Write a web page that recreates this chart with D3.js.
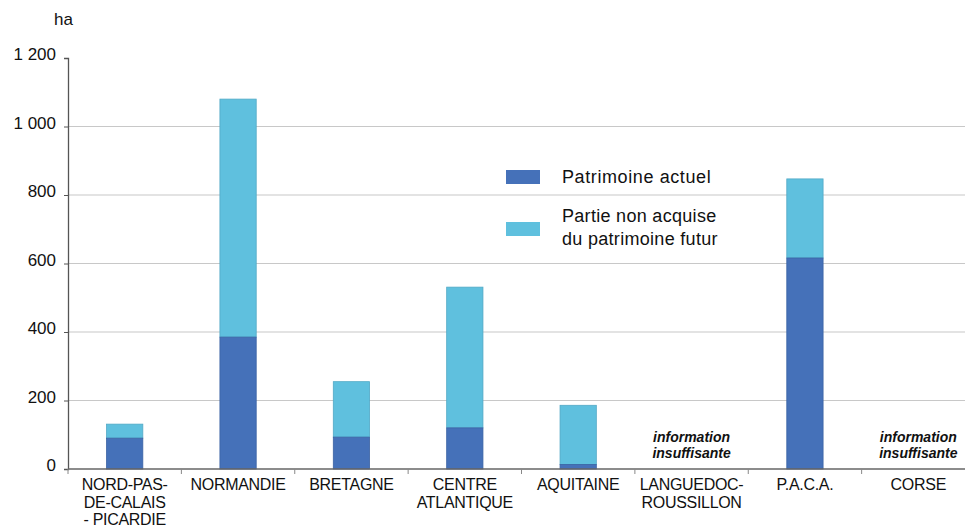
<!DOCTYPE html>
<html>
<head>
<meta charset="utf-8">
<script src="https://cdn.jsdelivr.net/npm/d3@7"></script>
<style>
  body { margin: 0; background: #fff; }
  text { font-family: "Liberation Sans", Arial, sans-serif; fill: #111; }
</style>
</head>
<body>
<svg id="chart" width="965" height="529"></svg>
<script>
// regions (x axis), one label line per array entry
var regions = [
    ["NORD-PAS-", "DE-CALAIS", "- PICARDIE"],
    ["NORMANDIE"],
    ["BRETAGNE"],
    ["CENTRE", "ATLANTIQUE"],
    ["AQUITAINE"],
    ["LANGUEDOC-", "ROUSSILLON"],
    ["P.A.C.A."],
    ["CORSE"]
];
// ha, null = information insuffisante
var actuel = [90, 385, 93, 120, 13, null, 616, null];
var nonAcquise = [41, 695, 162, 411, 173, null, 231, null];
var yTicks = [0, 200, 400, 600, 800, 1000, 1200];
var seriesNames = ["Patrimoine actuel", "Partie non acquise du patrimoine futur"];

var svg = d3.select("#chart");
var mLeft = 68, mRight = 975, mTop = 58, mBottom = 469;

var x = d3.scaleBand()
    .domain(d3.range(regions.length))
    .range([mLeft, mRight])
    .paddingInner(0.68)
    .paddingOuter(0.34);

var y = d3.scaleLinear()
    .domain([0, 1200])
    .range([mBottom, mTop]);

var fr = d3.formatLocale({decimal: ",", thousands: "\u00a0", grouping: [3], currency: ["", " €"]});
var fmt = fr.format(",d");

// gridlines
svg.append("g")
    .selectAll("line")
    .data(yTicks.filter(function(d) { return d > 0 && d < 1200; }))
    .enter().append("line")
    .attr("x1", mLeft)
    .attr("x2", 965)
    .attr("y1", function(d) { return y(d); })
    .attr("y2", function(d) { return y(d); })
    .attr("stroke", "#c8c8c8")
    .attr("stroke-width", 1.2);

// y axis
var yAxis = svg.append("g")
    .attr("transform", "translate(" + mLeft + ",0)")
    .call(d3.axisLeft(y).tickValues(yTicks).tickFormat(fmt).tickSize(4).tickPadding(8));
yAxis.select(".domain").attr("stroke", "#555").attr("stroke-width", 1.3);
yAxis.selectAll(".tick line").attr("stroke", "#555");
yAxis.selectAll(".tick text")
    .style("font-size", "17px")
    .style("font-family", "Liberation Sans, Arial, sans-serif")
    .attr("fill", "#111")
    .attr("dy", "0.1em");

svg.append("text")
    .attr("x", 54)
    .attr("y", 25)
    .style("font-size", "17px")
    .text("ha");

// stacked bars
var colors = ["#4571b9", "#5fc0de"];
var stack = regions.map(function(r, i) {
    return {i: i, a: actuel[i], b: nonAcquise[i]};
}).filter(function(d) { return d.a !== null; });

var bars = svg.append("g");
bars.selectAll("rect.light")
    .data(stack)
    .enter().append("rect")
    .attr("class", "light")
    .attr("x", function(d) { return x(d.i); })
    .attr("width", x.bandwidth())
    .attr("y", function(d) { return y(d.a + d.b); })
    .attr("height", function(d) { return y(d.a) - y(d.a + d.b); })
    .attr("fill", colors[1])
    .attr("stroke", "#52a9c6")
    .attr("stroke-width", 0.8);
bars.selectAll("rect.dark")
    .data(stack)
    .enter().append("rect")
    .attr("class", "dark")
    .attr("x", function(d) { return x(d.i); })
    .attr("width", x.bandwidth())
    .attr("y", function(d) { return y(d.a); })
    .attr("height", function(d) { return y(0) - y(d.a); })
    .attr("fill", colors[0])
    .attr("stroke", "#3b63a4")
    .attr("stroke-width", 0.8);

// x axis line and ticks at band boundaries
svg.append("line")
    .attr("x1", mLeft).attr("x2", 965)
    .attr("y1", mBottom).attr("y2", mBottom)
    .attr("stroke", "#666").attr("stroke-width", 1.5);
var step = x.step();
svg.append("g")
    .selectAll("line")
    .data(d3.range(regions.length + 1))
    .enter().append("line")
    .attr("x1", function(d) { return mLeft + d * step; })
    .attr("x2", function(d) { return mLeft + d * step; })
    .attr("y1", mBottom)
    .attr("y2", mBottom + 5)
    .attr("stroke", "#888");

// category labels
var cat = svg.append("g");
regions.forEach(function(lines, i) {
    var cx = x(i) + x.bandwidth() / 2;
    var t = cat.append("text")
        .attr("x", cx)
        .attr("y", 490)
        .attr("text-anchor", "middle")
        .style("font-size", "16px")
        .style("letter-spacing", "-0.3px");
    lines.forEach(function(l, k) {
        t.append("tspan")
            .attr("x", cx)
            .attr("dy", k == 0 ? 0 : 17.5)
            .text(l);
    });
});

// missing data notes
regions.forEach(function(r, i) {
    if (actuel[i] !== null) return;
    var cx = x(i) + x.bandwidth() / 2;
    var t = svg.append("text")
        .attr("x", cx)
        .attr("y", 442)
        .attr("text-anchor", "middle")
        .style("font-size", "14px")
        .style("font-style", "italic")
        .style("font-weight", "bold")
        .style("letter-spacing", "0px");
    t.append("tspan").attr("x", cx).text("information");
    t.append("tspan").attr("x", cx).attr("dy", 16).text("insuffisante");
});

// legend
var leg = svg.append("g");
leg.append("rect").attr("x", 506).attr("y", 170).attr("width", 34).attr("height", 14).attr("fill", colors[0]);
leg.append("text").attr("x", 562).attr("y", 183).style("font-size", "18px").style("letter-spacing", "0.6px").text(seriesNames[0]);
leg.append("rect").attr("x", 506).attr("y", 222).attr("width", 34).attr("height", 14).attr("fill", colors[1]);
var lt = leg.append("text").attr("x", 562).attr("y", 222).style("font-size", "18px").style("letter-spacing", "0.3px");
lt.append("tspan").attr("x", 562).text("Partie non acquise");
lt.append("tspan").attr("x", 562).attr("dy", 23).text("du patrimoine futur");
</script>
</body>
</html>
